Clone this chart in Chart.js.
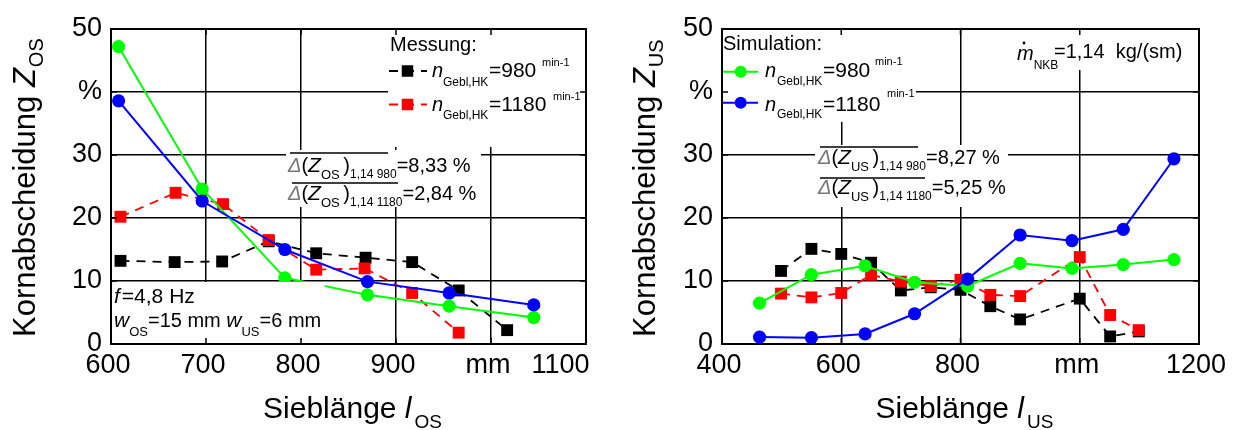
<!DOCTYPE html>
<html>
<head>
<meta charset="utf-8">
<script src="https://cdn.jsdelivr.net/npm/chart.js@4/dist/chart.umd.min.js"></script>
<style>
  html, body { margin: 0; padding: 0; background: #fff; }
  #wrap { position: relative; width: 1243px; height: 430px; overflow: hidden; }
  canvas { position: absolute; top: 0; }
  #cOS { left: 0; }
  #cUS { left: 620px; }
</style>
</head>
<body>
<div id="wrap">
  <canvas id="cOS" width="680" height="430"></canvas>
  <canvas id="cUS" width="623" height="430"></canvas>
</div>
<script>
// ---- Oberes Sieb (OS): Messung ----
const osMessX980  = [610, 667, 717, 766, 816, 868, 917, 966, 1017];
const osMess980   = [13.2, 13.0, 13.1, 16.3, 14.4, 13.7, 13.0, 8.5, 2.2];
const osMessX1180 = [610, 668, 718, 766, 816, 867, 917, 966];
const osMess1180  = [20.2, 24.0, 22.2, 16.5, 11.8, 12.0, 8.1, 1.8];
// ---- Oberes Sieb (OS): Simulation ----
const osSimX    = [608, 696, 783, 870, 956, 1045];
const osSim980  = [47.2, 24.6, 10.5, 7.8, 6.0, 4.2];
const osSim1180 = [38.6, 22.7, 15.0, 9.9, 8.1, 6.2];

// ---- Unteres Sieb (US): Messung ----
const usMessX    = [499, 550, 600, 650, 700, 750, 800, 850, 900, 1000, 1051, 1099];
const usMess980  = [11.6, 15.1, 14.3, 12.9, 8.5, 9.0, 8.6, 6.0, 3.9, 7.2, 1.2, 2.0];
const usMess1180 = [8.0, 7.4, 8.1, 11.0, 9.9, 9.2, 10.2, 7.8, 7.6, 13.8, 4.6, 2.2];
// ---- Unteres Sieb (US): Simulation ----
const usSimX    = [463, 550, 640, 723, 812, 900, 987, 1073, 1158];
const usSim980  = [6.5, 11.0, 12.4, 9.8, 9.2, 12.8, 12.0, 12.6, 13.4];
const usSim1180 = [1.1, 1.0, 1.6, 4.8, 10.3, 17.3, 16.4, 18.2, 29.4];

// ---- Achsen ----
const yTicks   = [0, 10, 20, 30, 40, 50];
const yLabels  = ['0', '10', '20', '30', '%', '50'];
const osXTicks = [600, 700, 800, 900, 1000, 1100];
const osXLabels = ['600', '700', '800', '900', 'mm', '1100      '];
const usXTicks = [400, 600, 800, 1000, 1200];
const usXLabels = ['400', '600', '800', 'mm', '1200'];

const FONT = '"Liberation Sans", Arial, sans-serif';
const GREEN = '#00ff00', BLUE = '#0000ff', RED = '#ff0000', BLACK = '#000000';

const pts = (xs, ys) => xs.map((x, i) => ({ x, y: ys[i] }));

function measDs(xs, ys, color, order) {
  return { data: pts(xs, ys), showLine: true, borderColor: color, backgroundColor: color,
    borderWidth: 1.8, borderDash: [9, 7], pointStyle: 'rect', pointRadius: 8.4,
    pointBorderWidth: 0, order };
}
function simDs(xs, ys, color, order) {
  return { data: pts(xs, ys), showLine: true, borderColor: color, backgroundColor: color,
    borderWidth: 2, pointStyle: 'circle', pointRadius: 6.6, pointBorderWidth: 0, order };
}

// rich text: sequence of runs with optional italic / baseline shift
function rich(ctx, x, y, runs) {
  for (const r of runs) {
    ctx.font = (r.it ? 'italic ' : '') + r.size + 'px ' + FONT;
    ctx.fillStyle = r.color || '#000';
    ctx.textAlign = 'left';
    ctx.textBaseline = 'alphabetic';
    if (r.x !== undefined) x = r.x;
    ctx.fillText(r.t, x, y + (r.dy || 0));
    x += ctx.measureText(r.t).width + (r.gap || 0);
  }
  return x;
}
function richWidth(ctx, runs) {
  let w = 0;
  for (const r of runs) {
    ctx.font = (r.it ? 'italic ' : '') + r.size + 'px ' + FONT;
    w += ctx.measureText(r.t).width + (r.gap || 0);
  }
  return w;
}
function hline(ctx, x1, x2, y, color, w, dash) {
  ctx.save();
  ctx.strokeStyle = color; ctx.lineWidth = w; ctx.setLineDash(dash || []);
  ctx.beginPath(); ctx.moveTo(x1, y); ctx.lineTo(x2, y); ctx.stroke();
  ctx.restore();
}
function square(ctx, cx, cy, s, color) {
  ctx.fillStyle = color; ctx.fillRect(cx - s / 2, cy - s / 2, s, s);
}
function dot(ctx, cx, cy, r, color) {
  ctx.fillStyle = color; ctx.beginPath(); ctx.arc(cx, cy, r, 0, Math.PI * 2); ctx.fill();
}

// Frame, white label boxes, inward ticks and axis titles
function framePlugin(cfg) {
  return {
    id: 'frame',
    afterDatasetsDraw(chart) {
      const ctx = chart.ctx, a = chart.chartArea;
      const xs = chart.scales.x, ys = chart.scales.y;
      ctx.save();
      // label boxes
      ctx.fillStyle = '#fff';
      for (const b of cfg.boxes) ctx.fillRect(b[0], b[1], b[2] - b[0], b[3] - b[1]);
      // frame
      ctx.strokeStyle = '#000'; ctx.lineWidth = 2; ctx.setLineDash([]);
      ctx.strokeRect(a.left, a.top, a.right - a.left, a.bottom - a.top);
      // inward ticks
      ctx.lineWidth = 1.5;
      ctx.beginPath();
      for (const v of cfg.xTicks) {
        const px = xs.getPixelForValue(v);
        ctx.moveTo(px, a.bottom); ctx.lineTo(px, a.bottom - 6);
        ctx.moveTo(px, a.top); ctx.lineTo(px, a.top + 6);
      }
      for (const v of yTicks) {
        const py = ys.getPixelForValue(v);
        ctx.moveTo(a.left, py); ctx.lineTo(a.left + 6, py);
        ctx.moveTo(a.right, py); ctx.lineTo(a.right - 6, py);
      }
      ctx.stroke();
      cfg.draw(ctx, chart);
      // y title
      ctx.save();
      ctx.translate(35, 337);
      ctx.rotate(-Math.PI / 2);
      rich(ctx, 0, 0, [
        { t: 'Kornabscheidung ', size: 31 },
        { t: 'Z', size: 31, it: true, gap: 1 },
        { t: cfg.sub, size: 20, dy: 8 }
      ]);
      ctx.restore();
      // x title
      const xr = [
        { t: 'Sieblänge ', size: 30 },
        { t: 'l', size: 30, it: true, gap: 3 },
        { t: cfg.sub, size: 19, dy: 10 }
      ];
      const cx = (a.left + a.right) / 2;
      rich(ctx, cx - richWidth(ctx, xr) / 2 + 4, 418, xr);
      ctx.restore();
    }
  };
}

function makeOptions(xMin, xMax, step, xTickVals, xTickLabels, padRight, yWidth) {
  return {
    responsive: false,
    animation: false,
    devicePixelRatio: 1,
    layout: { padding: { left: 0, top: 29, right: padRight, bottom: 0 } },
    plugins: { legend: { display: false }, tooltip: { enabled: false } },
    scales: {
      x: {
        type: 'linear', min: xMin, max: xMax,
        afterFit: s => { s.height = 86; },
        ticks: {
          stepSize: step, autoSkip: false, maxRotation: 0, padding: 5, color: '#000',
          labelOffset: -3,
          font: { family: FONT, size: 27 },
          callback: v => { const i = xTickVals.indexOf(v); return i >= 0 ? xTickLabels[i] : ''; }
        },
        grid: { color: '#000', lineWidth: 1.5, drawTicks: false },
        border: { display: false }
      },
      y: {
        type: 'linear', min: 0, max: 50,
        afterFit: s => { s.width = yWidth; },
        ticks: {
          stepSize: 10, padding: 9, color: '#000',
          font: { family: FONT, size: 27 },
          callback: v => { const i = yTicks.indexOf(v); return i >= 0 ? yLabels[i] : ''; }
        },
        grid: { color: '#000', lineWidth: 1.5, drawTicks: false },
        border: { display: false }
      }
    }
  };
}

// ---------- Oberes Sieb ----------
const osCfg = {
  sub: 'OS', xTicks: osXTicks,
  boxes: [[388, 30, 585, 147], [286, 150, 481, 207], [112, 282, 325, 343]],
  draw(ctx) {
    // legend
    rich(ctx, 390, 51, [{ t: 'Messung:', size: 20 }]);
    hline(ctx, 389, 427, 71, BLACK, 2, [9, 7]);
    square(ctx, 407.5, 71, 11.5, BLACK);
    rich(ctx, 432, 77, [{ t: 'n', size: 20, it: true }]);
    rich(ctx, 443, 86, [{ t: 'Gebl,HK', size: 12 }]);
    rich(ctx, 489, 77, [{ t: '=980', size: 21 }]);
    rich(ctx, 542, 66, [{ t: 'min-1', size: 11 }]);
    hline(ctx, 389, 427, 104.5, RED, 2, [9, 7]);
    square(ctx, 407.5, 104.5, 11.5, RED);
    rich(ctx, 432, 110.5, [{ t: 'n', size: 20, it: true }]);
    rich(ctx, 443, 119, [{ t: 'Gebl,HK', size: 12 }]);
    rich(ctx, 489, 110.5, [{ t: '=1180', size: 21 }]);
    rich(ctx, 553, 100, [{ t: 'min-1', size: 11 }]);
    // deviation annotations
    hline(ctx, 290, 388, 153, '#000', 1.5);
    rich(ctx, 288, 172, [
      { t: 'Δ', size: 20, it: true, color: '#777' }, { t: '(', size: 20 }, { t: 'Z', size: 21, it: true },
      { t: 'OS ', size: 13, dy: 7 }, { t: ')', size: 20 }, { t: '1,14 980', size: 12, dy: 6 },
      { t: '=8,33 %', size: 20 }
    ]);
    hline(ctx, 292, 398, 183, '#000', 1.5);
    rich(ctx, 288, 200, [
      { t: 'Δ', size: 20, it: true, color: '#777' }, { t: '(', size: 20 }, { t: 'Z', size: 21, it: true },
      { t: 'OS ', size: 13, dy: 7 }, { t: ')', size: 20 }, { t: '1,14 1180', size: 12, dy: 6 },
      { t: '=2,84 %', size: 20 }
    ]);
    // operating parameters
    rich(ctx, 114, 303, [{ t: 'f', size: 21, it: true, gap: 2 }, { t: '=4,8 Hz', size: 21 }]);
    rich(ctx, 114, 327, [
      { t: 'w', size: 21, it: true }, { t: 'OS', size: 13, dy: 9 }, { t: '=15 mm ', size: 20 },
      { t: 'w', size: 21, it: true }, { t: 'US', size: 13, dy: 9 }, { t: '=6 mm', size: 20 }
    ]);
  }
};
new Chart(document.getElementById('cOS'), {
  type: 'scatter',
  data: { datasets: [
    measDs(osMessX980, osMess980, BLACK, 3),
    measDs(osMessX1180, osMess1180, RED, 2),
    simDs(osSimX, osSim980, GREEN, 1),
    simDs(osSimX, osSim1180, BLUE, 0)
  ] },
  options: makeOptions(600, 1100, 100, osXTicks, osXLabels, 94, 111),
  plugins: [framePlugin(osCfg)]
});

// ---------- Unteres Sieb ----------
const usCfg = {
  sub: 'US', xTicks: usXTicks,
  boxes: [[103, 30, 296, 122], [195, 145, 388, 207], [385, 30, 578, 70]],
  draw(ctx) {
    // legend
    rich(ctx, 103, 50, [{ t: 'Simulation:', size: 20 }]);
    hline(ctx, 103, 138, 71.7, GREEN, 2);
    dot(ctx, 120.7, 71.7, 6, GREEN);
    rich(ctx, 145, 77.3, [{ t: 'n', size: 20, it: true }]);
    rich(ctx, 157, 85, [{ t: 'Gebl,HK', size: 12 }]);
    rich(ctx, 203, 77.3, [{ t: '=980', size: 21 }]);
    rich(ctx, 255, 65, [{ t: 'min-1', size: 11 }]);
    hline(ctx, 103, 138, 102.7, BLUE, 2);
    dot(ctx, 120.7, 102.7, 6, BLUE);
    rich(ctx, 145, 110.7, [{ t: 'n', size: 20, it: true }]);
    rich(ctx, 157, 118, [{ t: 'Gebl,HK', size: 12 }]);
    rich(ctx, 203, 110.7, [{ t: '=1180', size: 21 }]);
    rich(ctx, 267, 97, [{ t: 'min-1', size: 11 }]);
    // mass flow
    const mx = rich(ctx, 397, 60, [{ t: 'm', size: 20, it: true }]);
    dot(ctx, 404, 43, 1.4, '#000');
    rich(ctx, mx, 69, [{ t: 'NKB', size: 12 }]);
    rich(ctx, 434, 58, [{ t: '=1,14  kg/(sm)', size: 20 }]);
    // deviation annotations
    hline(ctx, 200, 298, 147, '#000', 1.5);
    rich(ctx, 198, 164, [
      { t: 'Δ', size: 20, it: true, color: '#777' }, { t: '(', size: 20 }, { t: 'Z', size: 21, it: true },
      { t: 'US ', size: 13, dy: 7 }, { t: ')', size: 20 }, { t: '1,14 980', size: 12, dy: 6 },
      { t: '=8,27 %', size: 20 }
    ]);
    hline(ctx, 200, 305, 178, '#000', 1.5);
    rich(ctx, 198, 194, [
      { t: 'Δ', size: 20, it: true, color: '#777' }, { t: '(', size: 20 }, { t: 'Z', size: 21, it: true },
      { t: 'US ', size: 13, dy: 7 }, { t: ')', size: 20 }, { t: '1,14 1180', size: 12, dy: 6 },
      { t: '=5,25 %', size: 20 }
    ]);
  }
};
new Chart(document.getElementById('cUS'), {
  type: 'scatter',
  data: { datasets: [
    measDs(usMessX, usMess980, BLACK, 3),
    measDs(usMessX, usMess1180, RED, 2),
    simDs(usSimX, usSim980, GREEN, 1),
    simDs(usSimX, usSim1180, BLUE, 0)
  ] },
  options: makeOptions(400, 1200, 200, usXTicks, usXLabels, 44, 102),
  plugins: [framePlugin(usCfg)]
});
</script>
</body>
</html>
